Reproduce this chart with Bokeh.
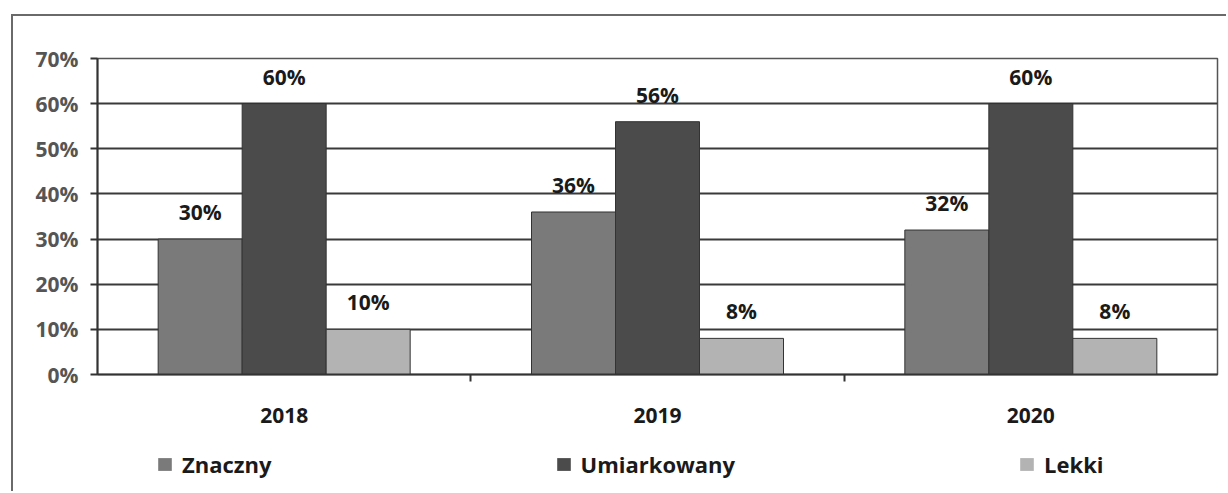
from bokeh.plotting import figure
from bokeh.layouts import column
from bokeh.models import (ColumnDataSource, FixedTicker, PrintfTickFormatter, Legend,
                          LegendItem, Range1d)
from bokeh.core.properties import value
from bokeh.embed import file_html
from bokeh.resources import INLINE

years = ["2018", "2019", "2020"]
znaczny = [30, 36, 32]
umiarkowany = [60, 56, 60]
lekki = [10, 8, 8]
series_names = ["Znaczny", "Umiarkowany", "Lekki"]
y_ticks = [0, 10, 20, 30, 40, 50, 60, 70]

FONT = "Open Sans"
colors = ["#7a7a7a", "#4b4b4b", "#b3b3b3"]
bar_w = 0.225
offsets = [-bar_w, 0.0, bar_w]

W = 1213
BL, BR = 84, 9
p = figure(width=W, height=422, output_backend="svg", toolbar_location=None,
           x_range=Range1d(0, 3), y_range=Range1d(0, 70),
           min_border_left=BL, min_border_right=BR, min_border_top=42, min_border_bottom=64)
p.background_fill_color = "white"
p.border_fill_color = "white"
p.outline_line_color = "#555555"
p.outline_line_width = 1.5

sources = []
for name, vals, col, off in zip(series_names, [znaczny, umiarkowany, lekki], colors, offsets):
    xs = [i + 0.5 + off for i in range(len(years))]
    src = ColumnDataSource(dict(x=xs, top=vals, lab=[f"{v}%" for v in vals]))
    sources.append(src)
    p.vbar(x="x", top="top", width=bar_w, bottom=0, source=src,
           fill_color=col, line_color="#333333", line_width=1)
    p.text(x="x", y="top", text="lab", source=src, text_font=value(FONT),
           text_font_style="bold", text_font_size="21px", text_color="#1a1a1a",
           text_align="center", text_baseline="alphabetic", y_offset=-27)

# axes
p.xaxis.ticker = FixedTicker(ticks=[i + 0.5 for i in range(len(years))], minor_ticks=[1, 2])
p.xaxis.major_label_overrides = {i + 0.5: y for i, y in enumerate(years)}
p.xaxis.major_tick_out = 0
p.xaxis.major_tick_in = 0
p.xaxis.minor_tick_out = 7
p.xaxis.minor_tick_in = 0
p.xaxis.minor_tick_line_color = "#333333"
p.xaxis.minor_tick_line_width = 2
p.xaxis.major_label_standoff = 26
p.xaxis.major_label_text_font = FONT
p.xaxis.major_label_text_font_style = "bold"
p.xaxis.major_label_text_font_size = "21px"
p.xaxis.major_label_text_color = "#1a1a1a"
p.xaxis.axis_line_color = "#333333"
p.xaxis.axis_line_width = 2

p.yaxis.ticker = FixedTicker(ticks=y_ticks, minor_ticks=[])
p.yaxis.formatter = PrintfTickFormatter(format="%d%%")
p.yaxis.major_tick_out = 7
p.yaxis.major_tick_in = 0
p.yaxis.major_tick_line_color = "#333333"
p.yaxis.major_tick_line_width = 2
p.yaxis.major_label_standoff = 12
p.yaxis.major_label_text_font = FONT
p.yaxis.major_label_text_font_style = "bold"
p.yaxis.major_label_text_font_size = "21px"
p.yaxis.major_label_text_color = "#555555"
p.yaxis.axis_line_color = "#333333"
p.yaxis.axis_line_width = 2

p.xgrid.grid_line_color = None
p.ygrid.ticker = FixedTicker(ticks=y_ticks)
p.ygrid.grid_line_color = "#3a3a3a"
p.ygrid.grid_line_width = 2

# legend strip: hidden copies of the series supply the legend swatches
pl = figure(width=W, height=53, output_backend="svg", toolbar_location=None,
            x_range=Range1d(0, 3), y_range=Range1d(-1000, -999),
            min_border_left=BL, min_border_right=BR, min_border_top=0, min_border_bottom=0,
            x_axis_location=None, y_axis_location=None)
pl.outline_line_color = None
pl.grid.visible = False
pl.background_fill_color = "white"
pl.border_fill_color = "white"
items = []
for name, col, src in zip(series_names, colors, sources):
    r = pl.vbar(x="x", top="top", width=bar_w, bottom=0, source=src,
                fill_color=col, line_color=None, visible=False)
    items.append(LegendItem(label=name, renderers=[r]))
legend = Legend(items=items, orientation="horizontal", location=(59, 12),
                glyph_width=17, glyph_height=16, label_standoff=9, spacing=283,
                padding=0, margin=0, border_line_color=None, background_fill_alpha=0,
                inactive_fill_alpha=0, click_policy="none",
                label_text_font=FONT, label_text_font_style="bold",
                label_text_font_size="22px", label_text_color="#1a1a1a")
pl.add_layout(legend, "center")

layout = column(p, pl, spacing=0, margin=(14, 0, 0, 11),
                styles={"border-left": "2px solid #6a6a6a", "border-top": "2px solid #6a6a6a"})

open("out.html", "w").write(file_html(layout, INLINE))
